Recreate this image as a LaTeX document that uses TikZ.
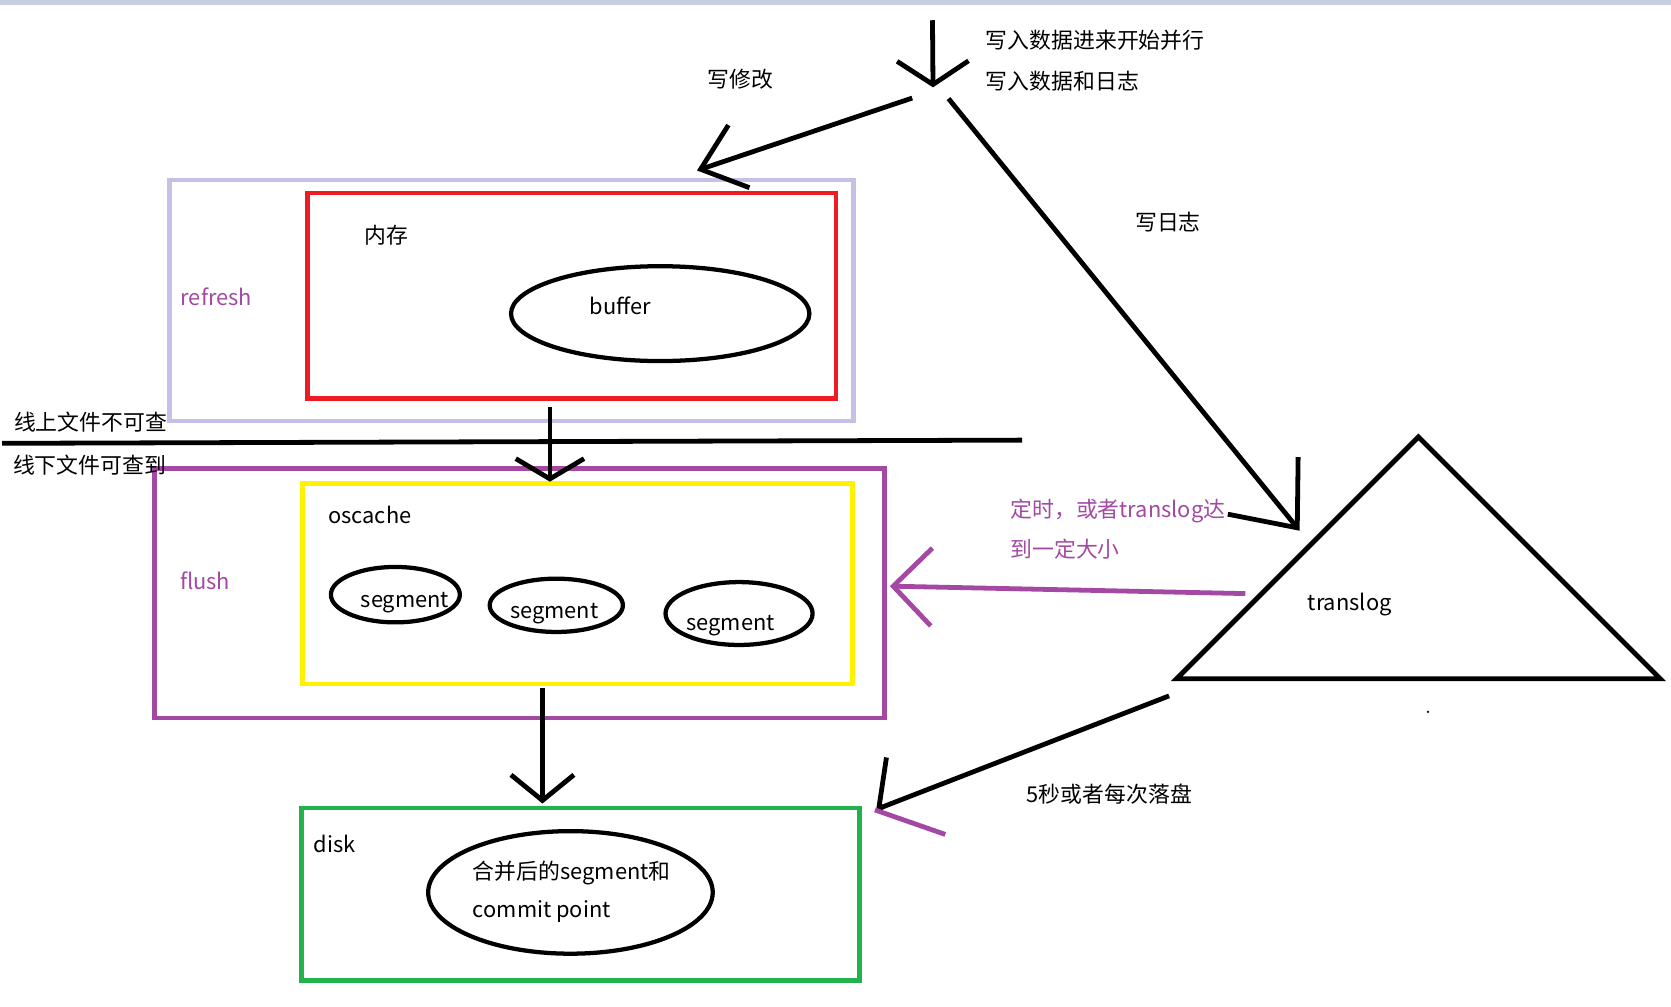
\documentclass[tikz,border=0pt]{standalone}
\usepackage{fontspec}
\setmainfont{Noto Sans CJK SC}
\usetikzlibrary{arrows.meta, shapes.geometric}

\definecolor{lav}{RGB}{200,191,231}
\definecolor{mspurple}{RGB}{163,73,164}
\definecolor{msred}{RGB}{237,28,36}
\definecolor{msyellow}{RGB}{255,242,0}
\definecolor{msgreen}{RGB}{34,177,76}
\definecolor{band}{RGB}{197,207,224}

\tikzset{
  box/.style={draw=#1, line width=4.2pt, rectangle, inner sep=0pt},
  blob/.style={draw, ellipse, line width=4pt, inner sep=0pt},
  lbl/.style={inner sep=0pt, text height=1.35em, text depth=0em},
  pen/.style={line width=4.5pt},
  barb/.style 2 args={-{Straight Barb[length=#1pt, width=#2pt]}},
}

\begin{document}
\begin{tikzpicture}[x=1pt, y=-1pt, font=\fontsize{20.5}{24}\selectfont]
            \useasboundingbox (0,0) rectangle (1568,944);
            \fill[band] (0,0) rectangle (1568,4.7);

            % Refresh: memory buffer
            \node[box=lav, minimum width=642pt, minimum height=226pt] (refreshbox) at (480,282) {};
            \node[box=msred, minimum width=496pt, minimum height=193pt] (mem) at (536.7,277.5) {};
            \node[blob, minimum width=280pt, minimum height=89pt] (buf) at (619.5,294.3) {};
            \node[lbl] (memtxt) at (362.5,221.5) {内存};
            \node[lbl] (buftxt) at (582,288) {buffer};
            \node[lbl, mspurple] (refreshtxt) at (203,280) {refresh};

            % Flush: os cache
            \node[box=mspurple, minimum width=685pt, minimum height=234.5pt] (flushbox) at (487.5,556.7) {};
            \node[box=msyellow, minimum width=516pt, minimum height=188.4pt] (cache) at (541.8,547.8) {};
            \node[blob, minimum width=121pt, minimum height=52pt] (seg1) at (371,558) {};
            \node[blob, minimum width=125pt, minimum height=50pt] (seg2) at (522,568) {};
            \node[blob, minimum width=138pt, minimum height=59pt] (seg3) at (693.5,575.7) {};
            \node[lbl] (cachetxt) at (347,484.5) {oscache};
            \node[lbl] (seg1txt) at (380,563) {segment};
            \node[lbl] (seg2txt) at (520,574) {segment};
            \node[lbl] (seg3txt) at (685.5,585) {segment};
            \node[lbl, mspurple] (flushtxt) at (192.5,546) {flush};

            % Disk
            \node[box=msgreen, minimum width=523.5pt, minimum height=162pt] (disk) at (544.7,839) {};
            \node[blob, minimum width=267pt, minimum height=115pt] (merged) at (535.3,837.4) {};
            \node[lbl] (disktxt) at (313.8,793.5) {disk};
            \node[lbl, anchor=west] (mergedtxt) at (443.6,818.4) {合并后的segment和};
            \node[lbl, anchor=west] (committxt) at (443.6,854.5) {commit point};

            % Translog
            \coordinate (apex) at (1331,410);
            \coordinate (tl) at (1104,637);
            \coordinate (tr) at (1558,637);
            \draw[line width=4.5pt] (apex) -- (tr) -- (tl) -- cycle;
            \node[lbl] (translog) at (1266.5,566) {translog};
            \fill (1340,668) circle (1.2pt);

            % Online / offline cut
            \coordinate (cut0) at (2,416);
            \coordinate (cut1) at (959,413);
            \draw[pen] (cut0) -- (cut1);
            \node[lbl, anchor=west] (online) at (13,397) {线上文件不可查};
            \node[lbl, anchor=west] (offline) at (12,438) {线下文件可查到};

            % Arrow ends
            \coordinate (in0) at (875,19);
            \coordinate (in1) at (875.5,82);
            \coordinate (wm0) at (856,92);
            \coordinate (wm1) at (654,160);
            \coordinate (wl0) at (890,92.5);
            \coordinate (wl1) at (1219.5,498);
            \coordinate (fl0) at (1168.5,557);
            \coordinate (fl1) at (835,550);
            \coordinate (rf0) at (516,382);
            \coordinate (rf1) at (516,452);
            \coordinate (fs0) at (509,646);
            \coordinate (fs1) at (509,754);
            \coordinate (dk0) at (1097,653);
            \coordinate (dk1) at (821,760);
            \coordinate (dk2) at (887,783);

            % Writes
            \draw[pen, barb={22}{67}] (in0) -- (in1);
            \draw[pen, barb={38}{62}] (wm0) -- (wm1);
            \draw[pen, barb={51}{85}] (wl0) -- (wl1);
            \node[lbl, anchor=west] (intxt1) at (925,39) {写入数据进来开始并行};
            \node[lbl, anchor=west] (intxt2) at (925,77) {写入数据和日志};
            \node[lbl] (wmtxt) at (695,75) {写修改};
            \node[lbl] (wltxt) at (1096,210) {写日志};

            % Refresh and flush
            \draw[pen, barb={19}{64}] (rf0) -- (rf1);
            \draw[pen, barb={24}{59}] (fs0) -- (fs1);
            \draw[pen, mspurple, barb={36}{73}] (fl0) -- (fl1);
            \node[lbl, anchor=west, mspurple] (fltxt1) at (948,479) {定时，或者translog达};
            \node[lbl, anchor=west, mspurple] (fltxt2) at (948,516.5) {到一定大小};

            % Translog to disk
            \draw[pen, -{Straight Barb[length=24pt, width=84pt, harpoon, swap]}] (dk0) -- (dk1);
            \draw[pen, mspurple] (dk1) -- (dk2);
            \node[lbl] (dktxt) at (1041,746) {5秒或者每次落盘};
\end{tikzpicture}
\end{document}
